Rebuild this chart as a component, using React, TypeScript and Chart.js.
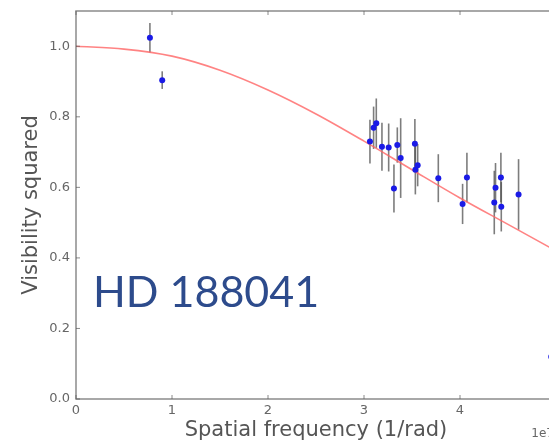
import React, { useEffect, useRef } from "react";
import { Chart, registerables } from "chart.js";
Chart.register(...registerables);

// Measured squared visibilities (x in units of 1e7 1/rad)
const freqX = [0.77, 0.898, 3.062, 3.10, 3.128, 3.187, 3.257, 3.312, 3.347, 3.382, 3.53, 3.535, 3.559, 3.774, 4.027, 4.072, 4.357, 4.37, 4.426, 4.43, 4.61, 4.95];
const vis2 = [1.024, 0.904, 0.73, 0.769, 0.782, 0.715, 0.713, 0.597, 0.72, 0.683, 0.724, 0.65, 0.663, 0.626, 0.553, 0.628, 0.557, 0.599, 0.628, 0.545, 0.58, 0.12];
const vis2Err = [0.042, 0.025, 0.062, 0.06, 0.07, 0.068, 0.068, 0.068, 0.05, 0.113, 0.07, 0.07, 0.06, 0.068, 0.057, 0.07, 0.09, 0.07, 0.07, 0.07, 0.1, 0.02];

// Model curve
const fitX = [0, 0.5, 1, 1.5, 2, 2.5, 3, 3.5, 4, 4.5, 5];
const fitY = [1.0, 0.992, 0.972, 0.932, 0.876, 0.808, 0.731, 0.65, 0.57, 0.495, 0.42];

const xTicks = [0, 1, 2, 3, 4, 5];
const yTicks = [0, 0.2, 0.4, 0.6, 0.8, 1.0];
const starName = "HD 188041";
const starLabelAt = { x: 0.177, y: 0.26 };
const offsetLabel = "1e7";

const framePlugin = {
  id: "frameAndErrors",
  beforeDatasetsDraw(chart: any) {
    const { ctx, scales } = chart;
    const xs = scales.x, ys = scales.y;
    ctx.save();
    ctx.strokeStyle = "rgba(70,70,70,0.7)";
    ctx.lineWidth = 1.6;
    for (let i = 0; i < freqX.length; i++) {
      const px = xs.getPixelForValue(freqX[i]);
      ctx.beginPath();
      ctx.moveTo(px, ys.getPixelForValue(vis2[i] - vis2Err[i]));
      ctx.lineTo(px, ys.getPixelForValue(vis2[i] + vis2Err[i]));
      ctx.stroke();
    }
    ctx.restore();
  },
  afterDraw(chart: any) {
    const { ctx, chartArea: a, scales } = chart;
    const xs = scales.x, ys = scales.y;
    ctx.save();
    ctx.strokeStyle = "rgba(90,90,90,0.7)";
    ctx.lineWidth = 1.5;
    ctx.strokeRect(a.left, a.top, a.right - a.left, a.bottom - a.top);
    ctx.lineWidth = 1;
    const t = 4;
    ctx.beginPath();
    for (const v of xTicks) {
      const px = xs.getPixelForValue(v);
      ctx.moveTo(px, a.bottom); ctx.lineTo(px, a.bottom - t);
      ctx.moveTo(px, a.top); ctx.lineTo(px, a.top + t);
    }
    for (const v of yTicks) {
      const py = ys.getPixelForValue(v);
      ctx.moveTo(a.left, py); ctx.lineTo(a.left + t, py);
      ctx.moveTo(a.right, py); ctx.lineTo(a.right - t, py);
    }
    ctx.stroke();
    // star name
    ctx.fillStyle = "#2d4b8c";
    ctx.font = "43px Lato";
    ctx.textBaseline = "alphabetic";
    ctx.textAlign = "left";
    ctx.fillText(starName, xs.getPixelForValue(starLabelAt.x), ys.getPixelForValue(starLabelAt.y));
    // offset text
    ctx.fillStyle = "#666";
    ctx.font = "12px 'DejaVu Sans'";
    ctx.textAlign = "right";
    ctx.fillText(offsetLabel, a.right - 2, 437);
    ctx.restore();
  },
};

export default function App() {
  const ref = useRef<HTMLCanvasElement | null>(null);
  useEffect(() => {
    if (!ref.current) return;
    const chart = new Chart(ref.current, {
      type: "scatter",
      data: {
        datasets: [
          {
            type: "line",
            data: fitX.map((x, i) => ({ x, y: fitY[i] })),
            borderColor: "rgba(255,100,100,0.8)",
            borderWidth: 1.6,
            pointRadius: 0,
            tension: 0.4,
            cubicInterpolationMode: "monotone",
            order: 2,
          } as any,
          {
            type: "scatter",
            data: freqX.map((x, i) => ({ x, y: vis2[i] })),
            backgroundColor: "#1a1ae6",
            borderColor: "#1a1ae6",
            pointRadius: 3,
            borderWidth: 0,
            order: 1,
          },
        ],
      },
      options: {
        animation: false,
        responsive: false,
        devicePixelRatio: 1,
        layout: { padding: { left: 0, right: 44, top: 11, bottom: 0 } },
        plugins: { legend: { display: false }, tooltip: { enabled: false } },
        scales: {
          x: {
            type: "linear",
            min: 0,
            max: 5,
            grid: { display: false, drawTicks: false },
            border: { display: false },
            afterBuildTicks: (s: any) => { s.ticks = xTicks.map((v) => ({ value: v })); },
            afterFit: (s: any) => { s.height = 43; s.paddingLeft = 0; s.paddingRight = 0; },
            ticks: {
              color: "#666",
              font: { family: "'DejaVu Sans'", size: 13 },
              padding: 4,
              maxRotation: 0,
              callback: (v: any) => String(v),
            },
            title: {
              display: true,
              text: "Spatial frequency (1/rad)",
              color: "#555",
              font: { family: "'DejaVu Sans'", size: 21, lineHeight: 1.1 },
              padding: { top: 0, bottom: 0 },
            },
          },
          y: {
            type: "linear",
            min: 0,
            max: 1.1,
            grid: { display: false, drawTicks: false },
            border: { display: false },
            afterBuildTicks: (s: any) => { s.ticks = yTicks.map((v) => ({ value: v })); },
            afterFit: (s: any) => { s.width = 76; s.paddingTop = 0; s.paddingBottom = 0; },
            ticks: {
              color: "#666",
              font: { family: "'DejaVu Sans'", size: 13 },
              padding: 6,
              callback: (v: any) => Number(v).toFixed(1),
            },
            title: {
              display: true,
              text: "Visibility squared",
              color: "#555",
              font: { family: "'DejaVu Sans'", size: 21, lineHeight: 1.1 },
              padding: { top: 20, bottom: 0 },
            },
          },
        },
      },
      plugins: [framePlugin],
    });
    return () => chart.destroy();
  }, []);
  return (
    <div style={{ position: "fixed", left: 0, top: 0, width: 549, height: 442, overflow: "hidden", background: "#fff" }}>
      <canvas ref={ref} width={600} height={442} style={{ width: 600, height: 442, display: "block" }} />
    </div>
  );
}
